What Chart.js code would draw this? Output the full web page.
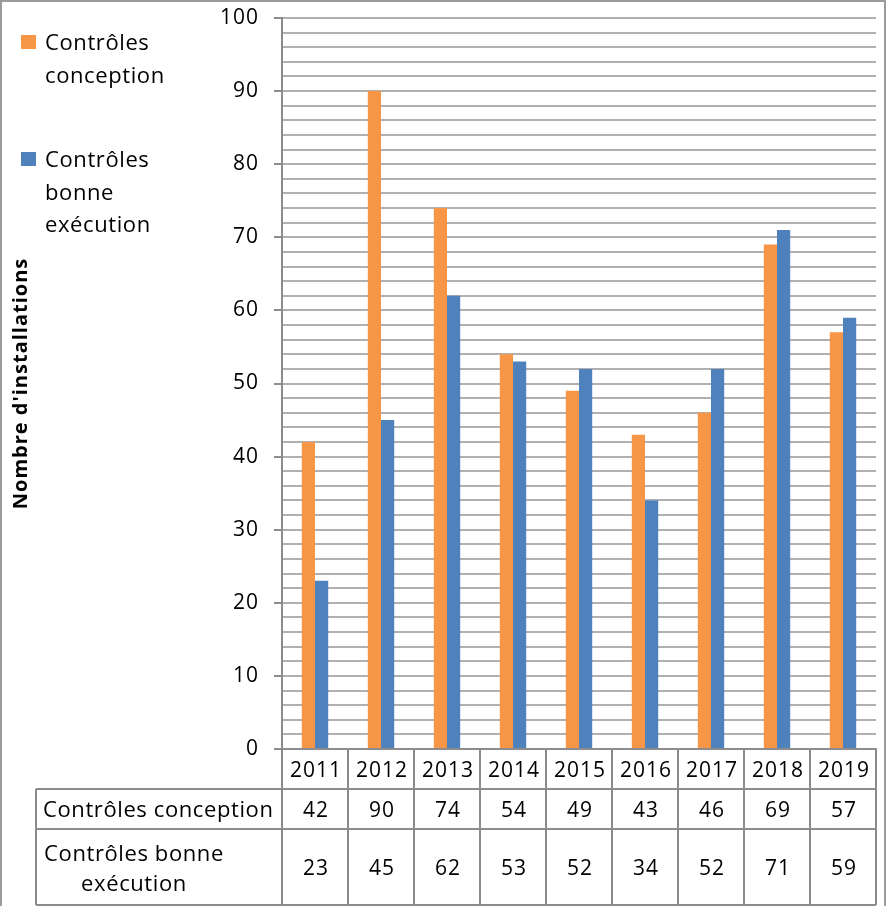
<!DOCTYPE html>
<html><head><meta charset="utf-8">
<script src="https://cdn.jsdelivr.net/npm/chart.js@4/dist/chart.umd.min.js"></script>
<style>html,body{margin:0;padding:0;background:#fff}#wrap{width:892px;height:906px;position:relative}</style>
</head><body><div id="wrap"><canvas id="c" width="892" height="906"></canvas></div>
<script>
const years = ['2011','2012','2013','2014','2015','2016','2017','2018','2019'];
const conception = [42, 90, 74, 54, 49, 43, 46, 69, 57];
const bonneExecution = [23, 45, 62, 53, 52, 34, 52, 71, 59];
const seriesNames = ['Contrôles conception', 'Contrôles bonne exécution'];
const legendLines = [['Contrôles','conception'], ['Contrôles','bonne','exécution']];
const rowLabelLines = [['Contrôles conception'], ['Contrôles bonne','exécution']];
const yTitle = "Nombre d'installations";
const colors = ['#F79646', '#4F81BD'];
const FONT = '"Open Sans", "Noto Sans", sans-serif';
const SPACING = '1px';

const spacingPlugin = {
  id: 'spacingPlugin',
  beforeUpdate(chart) { chart.ctx.letterSpacing = SPACING; },
  beforeLayout(chart) { chart.ctx.letterSpacing = SPACING; },
  beforeDraw(chart) { chart.ctx.letterSpacing = SPACING; }
};

const tablePlugin = {
  id: 'tablePlugin',
  afterDraw(chart) {
    const ctx = chart.ctx;
    const x = chart.scales.x;
    const area = chart.chartArea;
    const half = (x.getPixelForValue(1) - x.getPixelForValue(0)) / 2;
    const left = x.getPixelForValue(0) - half;
    const right = x.getPixelForValue(years.length - 1) + half;
    const labelLeft = 36;
    const r0 = area.bottom, r1 = area.bottom + 40, r2 = area.bottom + 80, r3 = 905;
    ctx.save();
    ctx.strokeStyle = '#8c8c8c';
    ctx.lineWidth = 2;
    ctx.beginPath();
    ctx.moveTo(labelLeft, r1); ctx.lineTo(right, r1);
    ctx.moveTo(labelLeft, r2); ctx.lineTo(right, r2);
    ctx.moveTo(labelLeft, r3); ctx.lineTo(right, r3);
    for (let i = 0; i <= years.length; i++) {
      const px = left + i * 2 * half;
      ctx.moveTo(px, r0); ctx.lineTo(px, r3);
    }
    ctx.moveTo(labelLeft, r1); ctx.lineTo(labelLeft, r3);
    ctx.stroke();
    ctx.strokeStyle = '#9a9a9a';
    ctx.lineWidth = 2;
    ctx.strokeRect(1, 1, 884, 906);
    ctx.fillStyle = '#000';
    ctx.letterSpacing = '1px';
    ctx.font = '21px ' + FONT;
    ctx.textAlign = 'center';
    ctx.textBaseline = 'middle';
    years.forEach((y, i) => ctx.fillText(y, x.getPixelForValue(i) + 1, (r0 + r1) / 2 + 2));
    conception.forEach((v, i) => ctx.fillText(String(v), x.getPixelForValue(i) + 1, (r1 + r2) / 2 + 2));
    bonneExecution.forEach((v, i) => ctx.fillText(String(v), x.getPixelForValue(i) + 1, (r2 + r3) / 2 + 2));
    ctx.letterSpacing = '0.6px';
    ctx.font = '22px ' + FONT;
    ctx.textAlign = 'left';
    ctx.fillText(rowLabelLines[0][0], 43, (r1 + r2) / 2 + 2);
    ctx.textAlign = 'center';
    ctx.fillText(rowLabelLines[1][0], 134, r2 + 26);
    ctx.fillText(rowLabelLines[1][1], 134, r2 + 56);
    const legTops = [35, 152];
    legendLines.forEach((lines, s) => {
      ctx.fillStyle = colors[s];
      ctx.fillRect(21, legTops[s], 15, 14);
      ctx.fillStyle = '#000';
      ctx.textAlign = 'left';
      lines.forEach((t, k) => ctx.fillText(t, 45, legTops[s] + 9 + k * 32.5));
    });
    ctx.restore();
  }
};

new Chart(document.getElementById('c'), {
  type: 'bar',
  data: {
    labels: years,
    datasets: [
      { label: seriesNames[0], data: conception, backgroundColor: colors[0] },
      { label: seriesNames[1], data: bonneExecution, backgroundColor: colors[1] }
    ]
  },
  options: {
    responsive: false,
    animation: false,
    devicePixelRatio: 1,
    layout: { padding: { left: 0, top: 18, right: 16, bottom: 0 } },
    plugins: { legend: { display: false }, tooltip: { enabled: false } },
    datasets: { bar: { categoryPercentage: 0.4, barPercentage: 1.0 } },
    scales: {
      x: {
        grid: { display: false },
        border: { display: true, color: '#8c8c8c', width: 2 },
        ticks: { display: false },
        afterFit(s) { s.height = 157; s.paddingLeft = 0; s.paddingRight = 0; }
      },
      y: {
        min: 0, max: 100,
        ticks: {
          stepSize: 2,
          autoSkip: false,
          padding: 15,
          color: '#000',
          font: { size: 21, family: FONT },
          callback: v => (v % 10 === 0 ? String(v) : '')
        },
        grid: {
          color: '#b0b0b0',
          lineWidth: 2,
          tickLength: 8,
          tickColor: ctx => (ctx.tick && ctx.tick.value % 10 === 0 ? '#8c8c8c' : 'rgba(0,0,0,0)'),
          tickWidth: 2
        },
        border: { display: true, color: '#8c8c8c', width: 2 },
        title: {
          display: true,
          text: yTitle,
          color: '#000',
          font: { size: 20, weight: 'bold', family: FONT },
          padding: { top: 9, bottom: 0 }
        },
        afterFit(s) { s.width = 282; s.paddingTop = 0; s.paddingBottom = 0; }
      }
    }
  },
  plugins: [spacingPlugin, tablePlugin]
});
</script></body></html>
